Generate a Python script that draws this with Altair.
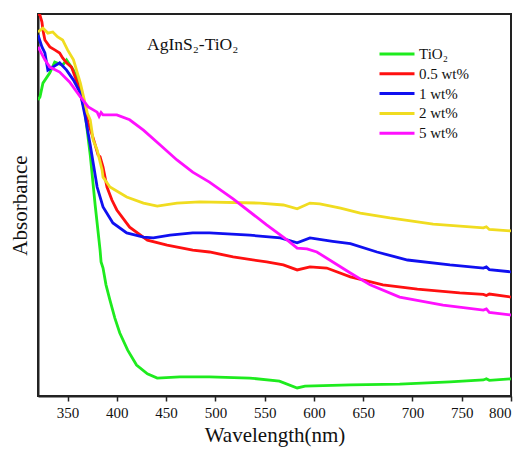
import altair as alt
import pandas as pd

series_names = ["TiO₂", "0.5 wt%", "1 wt%", "2 wt%", "5 wt%"]
series_colors = ["#1EEB1E", "#FF1010", "#1010F0", "#F0DC20", "#FF10FF"]

tio2_wl = [320, 322, 325, 332, 337, 345, 349, 356, 360, 365, 368, 373, 378, 383, 384, 386, 389, 393, 398, 403, 411, 420, 431, 441, 464, 494, 535, 565, 583, 591, 637, 687, 738, 772, 775, 778, 800]
tio2_ab = [0.775, 0.783, 0.819, 0.846, 0.874, 0.866, 0.880, 0.853, 0.830, 0.775, 0.736, 0.631, 0.500, 0.382, 0.351, 0.335, 0.291, 0.251, 0.204, 0.165, 0.120, 0.081, 0.058, 0.047, 0.050, 0.050, 0.047, 0.039, 0.021, 0.026, 0.029, 0.031, 0.037, 0.042, 0.045, 0.041, 0.045]

w05_wl = [320, 322, 324, 325, 327, 332, 337, 342, 345, 349, 354, 360, 366, 371, 376, 381, 383, 386, 390, 395, 400, 413, 431, 451, 477, 494, 518, 552, 569, 583, 596, 613, 637, 670, 705, 748, 772, 775, 778, 800]
w05_ab = [1.0, 0.997, 0.979, 0.958, 0.932, 0.914, 0.906, 0.898, 0.885, 0.872, 0.861, 0.819, 0.762, 0.715, 0.675, 0.631, 0.626, 0.599, 0.547, 0.513, 0.487, 0.442, 0.408, 0.395, 0.382, 0.377, 0.364, 0.351, 0.343, 0.330, 0.338, 0.335, 0.312, 0.291, 0.280, 0.270, 0.266, 0.263, 0.267, 0.259]

w1_wl = [320, 324, 327, 330, 335, 342, 349, 356, 363, 368, 373, 380, 386, 396, 410, 427, 437, 454, 477, 494, 535, 566, 583, 596, 619, 637, 664, 695, 738, 772, 775, 778, 800]
w1_ab = [0.945, 0.914, 0.898, 0.853, 0.861, 0.872, 0.853, 0.827, 0.793, 0.730, 0.657, 0.547, 0.495, 0.453, 0.427, 0.416, 0.414, 0.421, 0.427, 0.427, 0.421, 0.414, 0.401, 0.414, 0.405, 0.399, 0.377, 0.356, 0.343, 0.335, 0.338, 0.331, 0.325]

w2_wl = [320, 325, 330, 335, 340, 345, 350, 356, 363, 370, 373, 376, 380, 385, 386, 393, 410, 427, 441, 461, 484, 545, 569, 583, 596, 606, 627, 647, 677, 721, 772, 775, 778, 800]
w2_ab = [0.953, 0.963, 0.950, 0.953, 0.940, 0.932, 0.906, 0.880, 0.819, 0.741, 0.723, 0.670, 0.644, 0.592, 0.573, 0.547, 0.521, 0.505, 0.497, 0.505, 0.508, 0.505, 0.500, 0.490, 0.505, 0.503, 0.492, 0.479, 0.466, 0.450, 0.440, 0.443, 0.436, 0.432]

w5_wl = [320, 327, 332, 342, 352, 363, 371, 380, 382, 384, 386, 390, 400, 413, 427, 444, 461, 477, 494, 518, 552, 573, 583, 593, 603, 637, 657, 687, 731, 772, 775, 778, 800]
w5_ab = [0.914, 0.880, 0.861, 0.848, 0.822, 0.783, 0.757, 0.743, 0.732, 0.742, 0.736, 0.736, 0.736, 0.723, 0.696, 0.657, 0.618, 0.586, 0.560, 0.516, 0.448, 0.408, 0.387, 0.385, 0.377, 0.322, 0.291, 0.259, 0.238, 0.225, 0.228, 0.219, 0.212]

x_ticks = [350, 400, 450, 500, 550, 600, 650, 700, 750, 800]
title_text = "AgInS₂-TiO₂"

rows = []
for name, wl, ab in [
    (series_names[0], tio2_wl, tio2_ab),
    (series_names[1], w05_wl, w05_ab),
    (series_names[2], w1_wl, w1_ab),
    (series_names[3], w2_wl, w2_ab),
    (series_names[4], w5_wl, w5_ab),
]:
    for i, (w, a) in enumerate(zip(wl, ab)):
        rows.append({"Sample": name, "wl": w, "ab": a, "order": i})
df = pd.DataFrame(rows)

FONT = "Liberation Serif"

xscale = alt.Scale(domain=[320, 800], nice=False, zero=False)
yscale = alt.Scale(domain=[0, 1], nice=False, zero=False, clamp=True)

lines = alt.Chart(df).mark_line(strokeWidth=2.8, clip=True).encode(
    x=alt.X("wl:Q", scale=xscale,
            axis=alt.Axis(title="Wavelength(nm)", values=x_ticks, grid=False,
                          labelFont=FONT, labelFontSize=15, labelColor="#111",
                          titleFont=FONT, titleFontSize=21, titleFontWeight="normal",
                          titleColor="#111", tickSize=5, tickColor="#222",
                          domainColor="#222", domainWidth=2, tickWidth=1.5,
                          labelPadding=4, titlePadding=4)),
    y=alt.Y("ab:Q", scale=yscale,
            axis=alt.Axis(title="Absorbance", labels=False, ticks=False, grid=False,
                          titleFont=FONT, titleFontSize=21, titleFontWeight="normal",
                          titleColor="#111", domainColor="#222", domainWidth=2,
                          titlePadding=8)),
    color=alt.Color("Sample:N",
                    scale=alt.Scale(domain=series_names, range=series_colors),
                    sort=series_names,
                    legend=alt.Legend(title=None, orient="none", legendX=340, legendY=32,
                                      symbolType="stroke", symbolSize=1225,
                                      symbolStrokeWidth=3, clipHeight=16, rowPadding=3.8,
                                      labelFont=FONT, labelFontSize=15, labelColor="#111",
                                      labelOffset=3)),
    order="order:Q",
)

ann = pd.DataFrame({"wl": [477], "ab": [0.919], "t": [title_text]})
title_mark = alt.Chart(ann).mark_text(font=FONT, fontSize=17.5, color="#111").encode(
    x=alt.X("wl:Q", scale=xscale), y=alt.Y("ab:Q", scale=yscale), text="t:N")

chart = alt.layer(lines, title_mark).properties(
    width=473, height=382, autosize="none",
    padding={"left": 38, "top": 14, "right": 12, "bottom": 54},
    background="white",
).configure_view(stroke="#222", strokeWidth=2)

chart.save("out.html", embed_options={"renderer": "svg", "actions": False})
